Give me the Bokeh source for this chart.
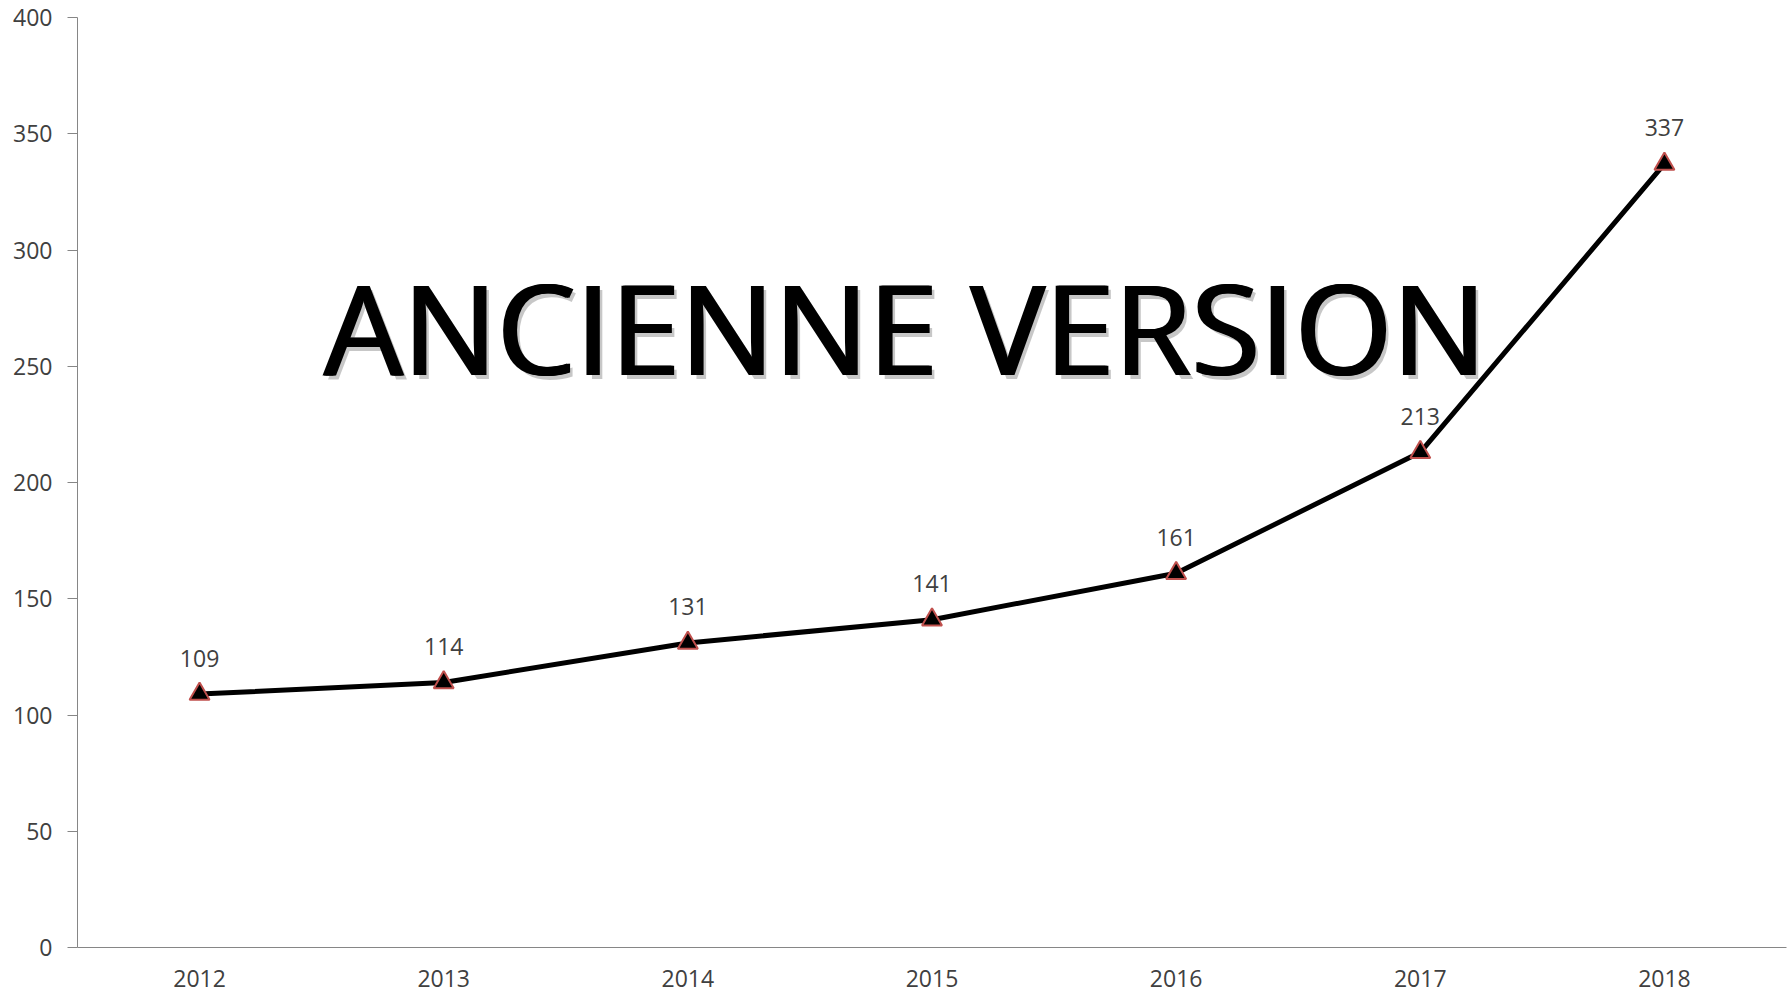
from bokeh.plotting import figure
from bokeh.models import FactorRange, Range1d, FixedTicker, ColumnDataSource
from bokeh.core.properties import value
from bokeh.embed import file_html
from bokeh.resources import INLINE

years = ["2012", "2013", "2014", "2015", "2016", "2017", "2018"]
counts = [109, 114, 131, 141, 161, 213, 337]
y_ticks = [0, 50, 100, 150, 200, 250, 300, 350, 400]
watermark = "ANCIENNE VERSION"

FONT = "Open Sans"
TXT = "#404040"
AXIS = "#868686"

src = ColumnDataSource(dict(x=years, y=counts, lab=[str(v) for v in counts]))

p = figure(width=1792, height=993, x_range=FactorRange(*years), y_range=Range1d(0, 400),
           output_backend="svg", toolbar_location=None,
           min_border_left=77, min_border_top=17, min_border_right=6, min_border_bottom=46)
p.outline_line_color = None
p.grid.visible = False

p.yaxis.ticker = FixedTicker(ticks=y_ticks)
p.yaxis.axis_line_color = AXIS
p.yaxis.major_tick_line_color = AXIS
p.yaxis.major_tick_out = 10
p.yaxis.major_tick_in = 0
p.yaxis.minor_tick_line_color = None
p.yaxis.major_label_standoff = 15

p.xaxis.axis_line_color = AXIS
p.xaxis.major_tick_line_color = None
p.xaxis.major_tick_out = 0
p.xaxis.major_tick_in = 0
p.xaxis.major_label_standoff = 22
p.xaxis.major_label_text_line_height = 0.8

for ax in (p.xaxis, p.yaxis):
    ax.major_label_text_font = FONT
    ax.major_label_text_font_size = "23px"
    ax.major_label_text_color = TXT

# watermark (annotation)
wm_x = 3.39
wm_y = 267
p.text(x=[wm_x], y=[wm_y], text=[watermark], text_font=value(FONT), text_font_size="125px",
       text_align="center", text_baseline="alphabetic", text_color="black", text_alpha=0.22,
       x_offset=4, y_offset=4)
for dx in (-1.5, 0, 1.5):
    p.text(x=[wm_x], y=[wm_y], text=[watermark], text_font=value(FONT), text_font_size="125px",
           text_align="center", text_baseline="alphabetic", text_color="black", x_offset=dx)

p.line("x", "y", source=src, line_color="black", line_width=5)
p.scatter("x", "y", source=src, marker="triangle", size=20, fill_color="black",
          line_color="#c0504d", line_width=2)
p.text("x", "y", text="lab", source=src, text_font=value(FONT), text_font_size="23px",
       text_color=TXT, text_align="center", text_baseline="middle", y_offset=-36)

open("out.html", "w").write(file_html(p, INLINE))
